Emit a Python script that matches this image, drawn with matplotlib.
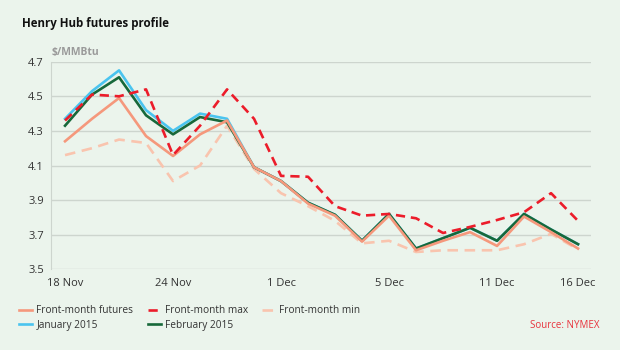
import matplotlib
matplotlib.use("Agg")
import matplotlib.pyplot as plt

plt.rcParams['font.family'] = ['Open Sans', 'DejaVu Sans']

dates = ['18 Nov', '19 Nov', '20 Nov', '21 Nov', '24 Nov', '25 Nov', '26 Nov', '28 Nov',
         '1 Dec', '2 Dec', '3 Dec', '4 Dec', '5 Dec', '8 Dec', '9 Dec', '10 Dec',
         '11 Dec', '12 Dec', '15 Dec', '16 Dec']
tick_labels = ['18 Nov', '24 Nov', '1 Dec', '5 Dec', '11 Dec', '16 Dec']

front_month = [4.24, 4.37, 4.49, 4.27, 4.155, 4.28, 4.36, 4.09, 4.01, 3.88,
               3.81, 3.66, 3.81, 3.61, 3.665, 3.715, 3.635, 3.805, 3.715, 3.62]
front_max = [4.36, 4.51, 4.50, 4.54, 4.16, 4.33, 4.54, 4.37, 4.04, 4.035,
             3.865, 3.81, 3.82, 3.795, 3.71, 3.745, 3.785, 3.83, 3.94, 3.78]
front_min = [4.16, 4.20, 4.25, 4.23, 4.01, 4.10, 4.33, 4.08, 3.94, 3.865,
             3.78, 3.65, 3.665, 3.60, 3.61, 3.61, 3.61, 3.645, 3.705, 3.615]
jan_2015 = [4.37, 4.53, 4.65, 4.42, 4.30, 4.40, 4.37, 4.09, 4.01, 3.885,
            3.815, 3.665, 3.82, 3.62, 3.68, 3.74, 3.665, 3.82, 3.73, 3.645]
feb_2015 = [4.33, 4.51, 4.61, 4.39, 4.28, 4.38, 4.35, 4.09, 4.01, 3.885,
            3.815, 3.665, 3.82, 3.62, 3.68, 3.74, 3.665, 3.82, 3.73, 3.645]

bg = '#ebf4ec'
c_front = '#f5987c'
c_max = '#ec1c2a'
c_min = '#f9c4ae'
c_jan = '#4ac4ef'
c_feb = '#17683a'

fig = plt.figure(figsize=(6.2, 3.5), dpi=100, facecolor=bg)
ax = fig.add_axes([51/620, 1 - 269.3/350, 540/620, 207.6/350], facecolor=bg)

x = list(range(len(dates)))
lw = 1.9
ax.plot(x, front_min, color=c_min, lw=lw, dashes=(4, 2.5), zorder=2, label='Front-month min')
ax.plot(x, jan_2015, color=c_jan, lw=lw, zorder=3, label='January 2015')
ax.plot(x, feb_2015, color=c_feb, lw=lw, zorder=4, label='February 2015')
ax.plot(x, front_month, color=c_front, lw=lw, zorder=5, label='Front-month futures')
ax.plot(x, front_max, color=c_max, lw=lw, dashes=(3.5, 2.2), zorder=6, label='Front-month max')

ax.set_xlim(-0.52, 19.48)
ax.set_ylim(3.5, 4.7)
ax.set_yticks([3.5, 3.7, 3.9, 4.1, 4.3, 4.5, 4.7])
ax.set_yticklabels(['3.5', '3.7', '3.9', '4.1', '4.3', '4.5', '4.7'])
ax.set_xticks([dates.index(t) for t in tick_labels])
ax.set_xticklabels(tick_labels)
ax.tick_params(length=0, labelsize=8, colors='#333333')
ax.tick_params(axis='y', pad=5)
ax.tick_params(axis='x', pad=6)
ax.grid(axis='y', color='#cdd5ce', lw=1)
for s in ['top', 'right', 'bottom']:
    ax.spines[s].set_visible(False)
ax.spines['left'].set_color('#cdd5ce')

fig.text(22/620, 1 - 23/350, 'Henry Hub futures profile', fontsize=8.3, fontweight='bold',
         color='#111111', va='center')
fig.text(52/620, 1 - 52/350, '$/MMBtu', fontsize=7.5, fontweight='bold', color='#9a9a9a',
         va='center')

h = {l.get_label(): l for l in ax.get_lines()}
order = ['Front-month futures', 'January 2015', 'Front-month max', 'February 2015', 'Front-month min']
leg = fig.legend([h[k] for k in order], order, ncol=3, loc='upper left',
                 bbox_to_anchor=(12/620, 1 - 298/350), frameon=False, fontsize=7.3,
                 handlelength=1.3, handletextpad=0.4, columnspacing=1.4, labelspacing=0.35,
                 borderpad=0.2)
for t in leg.get_texts():
    t.set_color('#333333')

fig.text(599/620, 1 - 325/350, 'Source: NYMEX', fontsize=7, color='#e8323c', ha='right',
         va='center')

fig.savefig('out.png', dpi=100, facecolor=bg)
